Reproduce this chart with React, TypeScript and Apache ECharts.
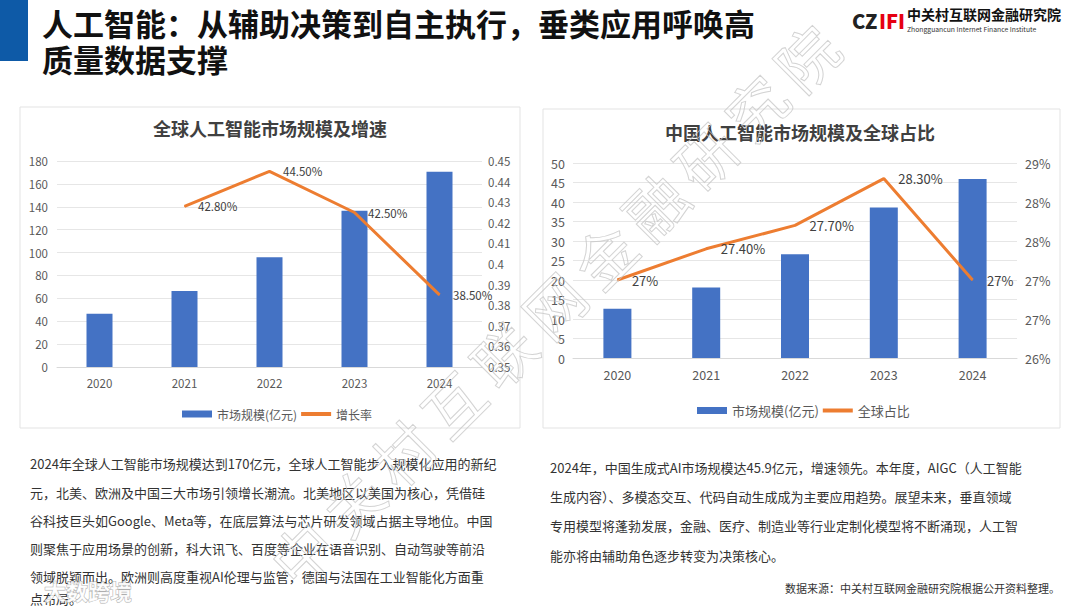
import React, { useEffect, useRef } from "react";
import * as echarts from "echarts";

const categories = ["2020", "2021", "2022", "2023", "2024"];
const globalMarket = [46.5, 66.5, 96, 136.5, 170.5];
const globalGrowth: (number | null)[] = [null, 0.428, 0.445, 0.425, 0.385];
const chinaMarket = [12.6, 18.1, 26.6, 38.6, 45.9];
const chinaShare = [0.27, 0.274, 0.277, 0.283, 0.27];

const mainTitle1 = "人工智能：从辅助决策到自主执行，垂类应用呼唤高";
const mainTitle2 = "质量数据支撑";
const leftTitle = "全球人工智能市场规模及增速";
const rightTitle = "中国人工智能市场规模及全球占比";
const barName = "市场规模(亿元)";
const growthName = "增长率";
const shareName = "全球占比";

const leftPara = [
  "2024年全球人工智能市场规模达到170亿元，全球人工智能步入规模化应用的新纪",
  "元，北美、欧洲及中国三大市场引领增长潮流。北美地区以美国为核心，凭借硅",
  "谷科技巨头如Google、Meta等，在底层算法与芯片研发领域占据主导地位。中国",
  "则聚焦于应用场景的创新，科大讯飞、百度等企业在语音识别、自动驾驶等前沿",
  "领域脱颖而出。欧洲则高度重视AI伦理与监管，德国与法国在工业智能化方面重",
  "点布局。",
];
const rightPara = [
  "2024年，中国生成式AI市场规模达45.9亿元，增速领先。本年度，AIGC（人工智能",
  "生成内容）、多模态交互、代码自动生成成为主要应用趋势。展望未来，垂直领域",
  "专用模型将蓬勃发展，金融、医疗、制造业等行业定制化模型将不断涌现，人工智",
  "能亦将由辅助角色逐步转变为决策核心。",
];
const sourceText = "数据来源：中关村互联网金融研究院根据公开资料整理。";
const watermark = "中关村互联网金融研究院";

const FONT = '"Noto Sans CJK SC", "Noto Sans", sans-serif';

const pctLabel = (v: number) => {
  const x = v * 100;
  if (Math.abs(x - Math.round(x)) < 1e-6) return Math.round(x) + "%";
  return x.toFixed(2) + "%";
};

function txt(
  text: string,
  x: number,
  y: number,
  size: number,
  color: string,
  opts: any = {}
) {
  return {
    type: "text",
    x,
    y,
    silent: true,
    z: opts.z ?? 10,
    rotation: opts.rotation ?? 0,
    style: {
      text,
      fill: opts.fill ?? color,
      stroke: opts.stroke,
      lineWidth: opts.lineWidth,
      opacity: opts.opacity ?? 1,
      font: `${opts.weight ?? "normal"} ${size}px ${FONT}`,
      lineHeight: opts.lineHeight,
      textAlign: opts.align ?? "left",
      align: opts.align ?? "left",
      textVerticalAlign: "middle",
      verticalAlign: "middle",
    },
  };
}

export default function App() {
  const ref = useRef<HTMLDivElement>(null);
  useEffect(() => {
    if (!ref.current) return;
    const chart = echarts.init(ref.current, undefined, { renderer: "svg" });

    const graphics: any[] = [
      { type: "rect", shape: { x: 0, y: 0, width: 28, height: 61 }, style: { fill: "#0E5AA7" }, silent: true },
      txt(mainTitle1, 42, 22, 31, "#111", { weight: "bold", lineHeight: 32 }),
      txt(mainTitle2, 42, 58, 31, "#111", { weight: "bold", lineHeight: 32 }),
      txt("CZ", 852, 20, 20, "#222", { weight: "900" }),
      txt("IFI", 879, 20, 20, "#E60012", { weight: "900" }),
      txt("中关村互联网金融研究院", 907, 14, 14, "#111", { weight: "bold" }),
      txt("Zhongguancun Internet Finance Institute", 907, 29, 6.8, "#333"),
      { type: "rect", shape: { x: 20, y: 107, width: 500, height: 321 }, style: { fill: "none", stroke: "#e3e3e3", lineWidth: 1 }, silent: true },
      { type: "rect", shape: { x: 543, y: 109, width: 517, height: 319 }, style: { fill: "none", stroke: "#e3e3e3", lineWidth: 1 }, silent: true },
      txt(leftTitle, 270, 128, 18, "#404040", { weight: "bold", align: "center" }),
      txt(rightTitle, 800, 132, 18, "#404040", { weight: "bold", align: "center" }),
    ];
    const leftY = [463, 492, 520, 548, 576, 598];
    leftPara.forEach((l, i) => graphics.push(txt(l, 30, leftY[i], 13, "#333")));
    const rightY = [467, 496, 525, 555];
    rightPara.forEach((l, i) => graphics.push(txt(l, 550, rightY[i], 13, "#333")));
    graphics.push(txt(sourceText, 1060, 588, 11, "#333", { align: "right" }));
    // diagonal outlined watermark, one glyph at a time (last glyph top-right)
    const wmChars = watermark.split("");
    const n = wmChars.length;
    wmChars.forEach((c, i) => {
      const k = n - 1 - i;
      graphics.push(
        txt(c, 805 - k * 50.5, 56 + k * 49.5, 60, "#000", {
          rotation: Math.PI / 4,
          align: "center",
          fill: "none",
          stroke: "#c4c4c4",
          lineWidth: 1,
          opacity: 0.75,
          lineHeight: 60,
          z: 100,
        })
      );
    });
    graphics.push(
      txt("大数跨境", 44, 590, 22, "#fff", { weight: "bold", stroke: "#a0a0a0", lineWidth: 1, opacity: 0.85, z: 100 })
    );

    const axisLabel = (size: number) => ({ color: "#595959", fontSize: size, fontFamily: FONT });

    chart.setOption({
      animation: false,
      textStyle: { fontFamily: FONT },
      graphic: graphics,
      grid: [
        { left: 57, top: 161, width: 425, height: 206 },
        { left: 573, top: 163, width: 444, height: 195 },
      ],
      legend: [
        {
          left: 177,
          top: 403,
          itemWidth: 30,
          itemHeight: 7,
          itemGap: 4,
          textStyle: { color: "#595959", fontSize: 12, fontFamily: FONT },
          data: [
            { name: barName, icon: "rect" },
            { name: growthName, icon: "path://M0 0H30V4H0Z" },
          ],
        },
        {
          left: 692,
          top: 399,
          itemWidth: 30,
          itemHeight: 7,
          itemGap: 4,
          textStyle: { color: "#595959", fontSize: 13, fontFamily: FONT },
          data: [
            { name: barName, icon: "rect" },
            { name: shareName, icon: "path://M0 0H30V4H0Z" },
          ],
        },
      ],
      xAxis: [
        {
          type: "category",
          gridIndex: 0,
          data: categories,
          axisTick: { show: false },
          axisLine: { lineStyle: { color: "#d9d9d9" } },
          axisLabel: { ...axisLabel(11.5), margin: 10 },
        },
        {
          type: "category",
          gridIndex: 1,
          data: categories,
          axisTick: { show: false },
          axisLine: { lineStyle: { color: "#d9d9d9" } },
          axisLabel: { ...axisLabel(12.5), margin: 10 },
        },
      ],
      yAxis: [
        {
          type: "value",
          gridIndex: 0,
          min: 0,
          max: 180,
          interval: 20,
          axisLine: { show: false },
          axisTick: { show: false },
          splitLine: { lineStyle: { color: "#e6e6e6" } },
          axisLabel: { ...axisLabel(11.5), margin: 9 },
        },
        {
          type: "value",
          gridIndex: 0,
          position: "right",
          min: 0.35,
          max: 0.45,
          interval: 0.01,
          axisLine: { show: false },
          axisTick: { show: false },
          splitLine: { show: false },
          axisLabel: {
            ...axisLabel(11.5),
            margin: 6,
            formatter: (v: number) => String(parseFloat(v.toFixed(2))),
          },
        },
        {
          type: "value",
          gridIndex: 1,
          min: 0,
          max: 50,
          interval: 5,
          axisLine: { show: false },
          axisTick: { show: false },
          splitLine: { lineStyle: { color: "#e6e6e6" } },
          axisLabel: { ...axisLabel(12.5), margin: 8 },
        },
        {
          type: "value",
          gridIndex: 1,
          position: "right",
          min: 0.26,
          max: 0.285,
          interval: 0.005,
          axisLine: { show: false },
          axisTick: { show: false },
          splitLine: { show: false },
          axisLabel: {
            ...axisLabel(12.5),
            margin: 8,
            formatter: (v: number) => Math.round(v * 100 + 1e-6) + "%",
          },
        },
      ],
      series: [
        {
          name: barName,
          type: "bar",
          xAxisIndex: 0,
          yAxisIndex: 0,
          data: globalMarket,
          barWidth: 26,
          itemStyle: { color: "#4472C4" },
        },
        {
          name: growthName,
          type: "line",
          xAxisIndex: 0,
          yAxisIndex: 1,
          data: globalGrowth,
          symbol: "circle",
          symbolSize: 1,
          lineStyle: { color: "#ED7D31", width: 3 },
          itemStyle: { color: "#ED7D31" },
          label: {
            show: true,
            position: "right",
            distance: 13,
            color: "#404040",
            fontSize: 11.5,
            fontFamily: FONT,
            formatter: (p: any) => pctLabel(p.value),
          },
          z: 5,
        },
        {
          name: barName,
          type: "bar",
          xAxisIndex: 1,
          yAxisIndex: 2,
          data: chinaMarket,
          barWidth: 28,
          itemStyle: { color: "#4472C4" },
        },
        {
          name: shareName,
          type: "line",
          xAxisIndex: 1,
          yAxisIndex: 3,
          data: chinaShare,
          symbol: "circle",
          symbolSize: 1,
          lineStyle: { color: "#ED7D31", width: 3 },
          itemStyle: { color: "#ED7D31" },
          label: {
            show: true,
            position: "right",
            distance: 14,
            color: "#404040",
            fontSize: 13,
            fontFamily: FONT,
            formatter: (p: any) => pctLabel(p.value),
          },
          z: 5,
        },
      ],
    });
    return () => chart.dispose();
  }, []);
  return (
    <div
      ref={ref}
      style={{ position: "absolute", left: 0, top: 0, width: 1080, height: 608, background: "#fff" }}
    />
  );
}
